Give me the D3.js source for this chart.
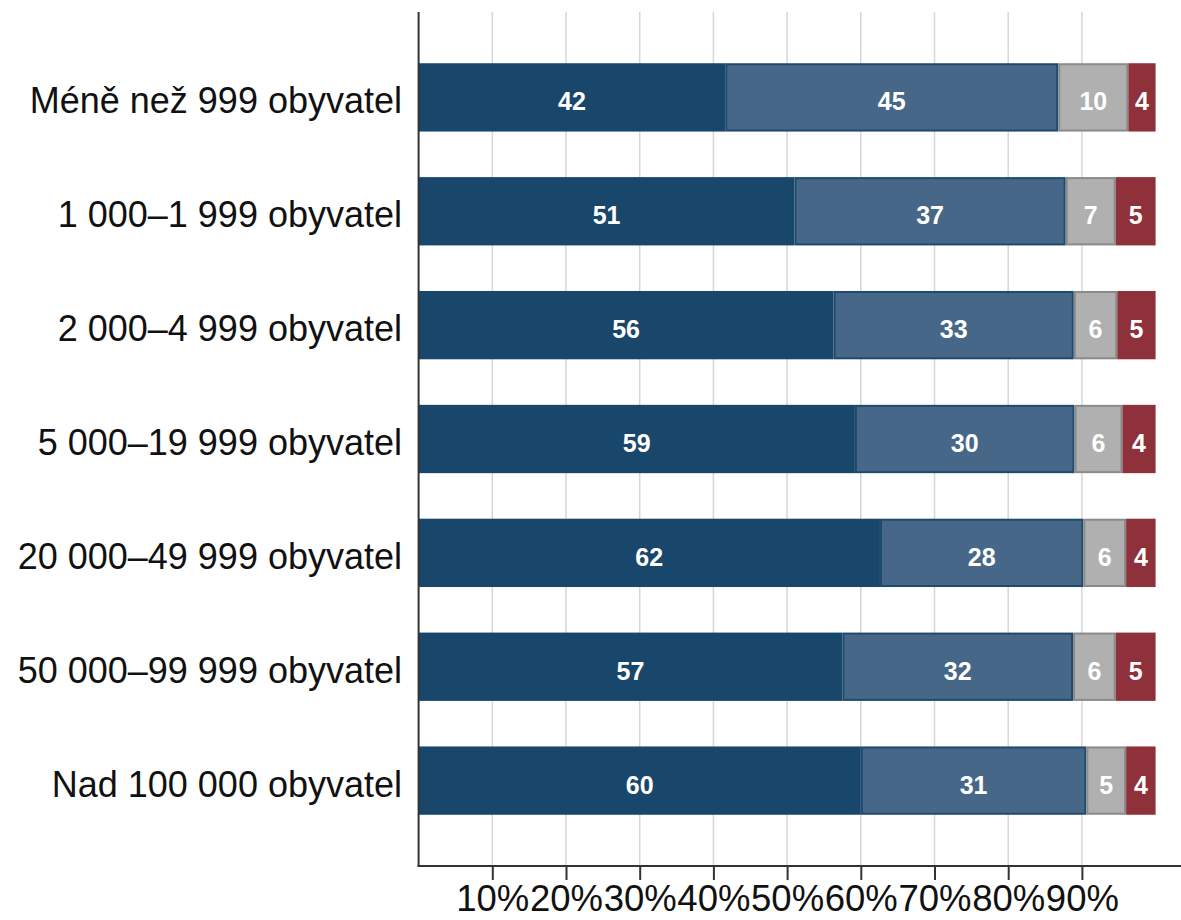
<!DOCTYPE html>
<html><head><meta charset="utf-8">
<script src="https://cdn.jsdelivr.net/npm/d3@7/dist/d3.min.js"></script>
<style>body{margin:0;background:#fff}svg{display:block}</style>
</head><body>
<svg id="c" width="1181" height="920"></svg>
<script>
const categories = ["Méně než 999 obyvatel","1 000–1 999 obyvatel","2 000–4 999 obyvatel","5 000–19 999 obyvatel","20 000–49 999 obyvatel","50 000–99 999 obyvatel","Nad 100 000 obyvatel"];
const seriesA = [41.6, 51.0, 56.3, 59.2, 62.6, 57.5, 60.0];
const seriesB = [45.2, 36.8, 32.6, 29.8, 27.6, 31.3, 30.6];
const seriesC = [9.5, 6.8, 5.9, 6.5, 5.8, 5.8, 5.4];
const seriesD = [3.7, 5.4, 5.2, 4.5, 4.0, 5.4, 4.0];
const labelsA = [42, 51, 56, 59, 62, 57, 60];
const labelsB = [45, 37, 33, 30, 28, 32, 31];
const labelsC = [10, 7, 6, 6, 6, 6, 5];
const labelsD = [4, 5, 5, 4, 4, 5, 4];
const xTicks = [10,20,30,40,50,60,70,80,90];

const series = [
  {vals: seriesA, labels: labelsA, fill: "#19466b", stroke: "none"},
  {vals: seriesB, labels: labelsB, fill: "#466788", stroke: "#1e4a70"},
  {vals: seriesC, labels: labelsC, fill: "#b0b0b0", stroke: "#8a8a8a"},
  {vals: seriesD, labels: labelsD, fill: "#8f313a", stroke: "none"}
];

const svg = d3.select("#c");
const plotLeft = 418.6, plotTop = 12, plotBottom = 866;
const x = d3.scaleLinear().domain([0,100]).range([plotLeft, 1155.6]);
const y = d3.scaleBand().domain(categories).range([plotTop, plotBottom]).paddingInner(0.4).paddingOuter(0.45);

// gridlines
svg.append("g").selectAll("line").data(xTicks).join("line")
  .attr("x1", d=>x(d)).attr("x2", d=>x(d)).attr("y1", plotTop).attr("y2", plotBottom)
  .attr("stroke", "#d6d6d6").attr("stroke-width", 1.5);

// bars
const font = "'Liberation Sans', Arial, Helvetica, sans-serif";
categories.forEach((cat, i) => {
  let acc = 0;
  series.forEach(s => {
    const v = s.vals[i];
    const x0 = x(acc), x1 = x(acc + v);
    const g = svg.append("g");
    if (s.stroke === "none") {
      g.append("rect").attr("x", x0).attr("y", y(cat)).attr("width", x1 - x0).attr("height", y.bandwidth()).attr("fill", s.fill);
    } else {
      g.append("rect").attr("x", x0 + 1).attr("y", y(cat) + 1).attr("width", x1 - x0 - 2).attr("height", y.bandwidth() - 2)
        .attr("fill", s.fill).attr("stroke", s.stroke).attr("stroke-width", 2);
    }
    g.append("text").attr("x", (x0 + x1) / 2).attr("y", y(cat) + y.bandwidth() / 2 + 13)
      .attr("text-anchor", "middle").attr("fill", "#fff")
      .attr("font-family", font).attr("font-size", 25).attr("font-weight", "bold")
      .text(s.labels[i]);
    acc += v;
  });
});

// y axis line
svg.append("line").attr("x1", plotLeft).attr("x2", plotLeft).attr("y1", plotTop).attr("y2", plotBottom + 1)
  .attr("stroke", "#333").attr("stroke-width", 2);
// y labels
svg.append("g").selectAll("text").data(categories).join("text")
  .attr("x", 402).attr("y", d => y(d) + y.bandwidth()/2 + 16)
  .attr("text-anchor", "end").attr("fill", "#111")
  .attr("font-family", font).attr("font-size", 36)
  .text(d => d);

// x axis
const xAxis = d3.axisBottom(x).tickValues(xTicks).tickSize(14).tickSizeOuter(0).tickFormat(d => d + "%");
const ax = svg.append("g").attr("transform", `translate(0,${plotBottom})`).call(xAxis);
ax.select(".domain").remove();
ax.selectAll(".tick line").attr("stroke", "#333").attr("stroke-width", 2);
ax.selectAll(".tick text").attr("font-family", font).attr("font-size", 36.5).attr("fill", "#111").attr("dy", 0).attr("y", 45);
svg.append("line").attr("x1", plotLeft - 1).attr("x2", 1181).attr("y1", plotBottom).attr("y2", plotBottom)
  .attr("stroke", "#333").attr("stroke-width", 2);
</script>
</body></html>
